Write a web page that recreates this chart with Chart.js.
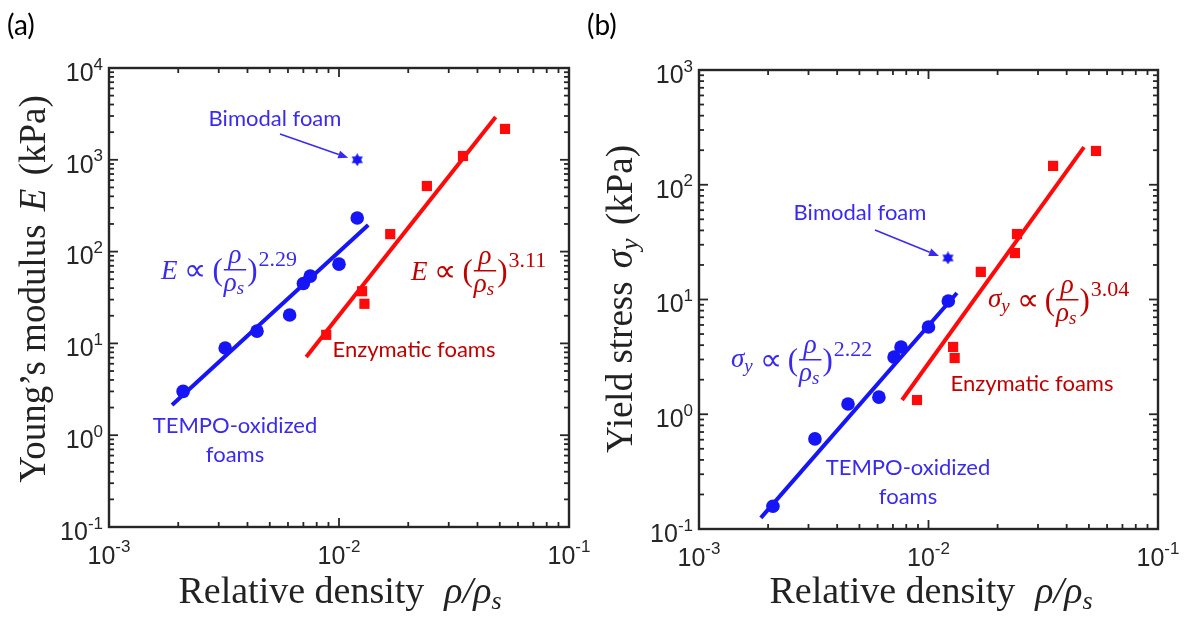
<!DOCTYPE html>
<html>
<head>
<meta charset="utf-8">
<script src="https://cdn.jsdelivr.net/npm/chart.js@4.4.0/dist/chart.umd.min.js"></script>
<style>
  body { margin: 0; background: #fff; width: 1191px; height: 617px; overflow: hidden; position: relative; }
  canvas { position: absolute; top: 0; }
  #chartA { left: 0; }
  #chartB { left: 575px; }
</style>
</head>
<body>
<canvas id="chartA" width="600" height="617"></canvas>
<canvas id="chartB" width="616" height="617"></canvas>
<script>
// axis decades (shown as 10^n)
const xTickExps = [-3, -2, -1];
const yTickExpsA = [-1, 0, 1, 2, 3, 4];
const yTickExpsB = [-1, 0, 1, 2, 3];

// (a) Young's modulus E (kPa) vs relative density
const tempoDensityA = [0.0021, 0.0032, 0.0044, 0.0061, 0.0070, 0.0075, 0.0100, 0.0120];
const tempoModulus  = [3.0, 8.9, 13.6, 20.4, 45, 54, 73, 232];
const enzDensityA   = [0.0088, 0.0126, 0.0129, 0.0167, 0.0241, 0.0346, 0.0527];
const enzModulus    = [12.4, 37, 27, 155, 518, 1100, 2170];
const bimodalDensityA = [0.0120];
const bimodalModulus  = [1000];
const tempoFitDensityA = [0.00188, 0.0134];
const tempoFitModulus  = [2.13, 195];
const enzFitDensityA   = [0.0072, 0.048];
const enzFitModulus    = [7.1, 2930];

// (b) Yield stress sigma_y (kPa) vs relative density
const tempoDensityB = [0.0021, 0.0032, 0.00446, 0.00608, 0.00708, 0.00759, 0.0100, 0.0122];
const tempoStress   = [0.158, 0.61, 1.23, 1.41, 3.15, 3.86, 5.76, 9.7];
const enzDensityB   = [0.00891, 0.0128, 0.0130, 0.0169, 0.0238, 0.0243, 0.0349, 0.0537];
const enzStress     = [1.33, 3.86, 3.09, 17.4, 25.4, 37.2, 146, 197];
const bimodalDensityB = [0.01216];
const bimodalStress   = [23];
const tempoFitDensityB = [0.00186, 0.0133];
const tempoFitStress   = [0.125, 11.4];
const enzFitDensityB   = [0.00767, 0.0476];
const enzFitStress     = [1.33, 213];

const BLUE = '#1515f5';
const BLUE_TXT = '#3a2af0';
const RED = '#ff0a0a';
const RED_TXT = '#c00000';
const AXIS = '#262626';
const SANS = '"Liberation Sans", Arial, sans-serif';
const SERIF = '"Liberation Serif", "Times New Roman", serif';
const LABEL = 'Lato, "Open Sans", sans-serif';

function pts(xs, ys) { return xs.map((x, i) => ({ x: x, y: ys[i] })); }

// six pointed star marker
function hexagram(size, color) {
  const c = document.createElement('canvas');
  c.width = c.height = size;
  const g = c.getContext('2d');
  const r = size / 2;
  g.fillStyle = color;
  [-Math.PI / 2, Math.PI / 2].forEach(rot => {
    g.beginPath();
    for (let i = 0; i < 3; i++) {
      const a = rot + i * 2 * Math.PI / 3;
      g.lineTo(r + r * Math.cos(a), r + r * Math.sin(a));
    }
    g.closePath();
    g.fill();
  });
  return c;
}
const star = hexagram(13, BLUE);

function datasets(tx, ty, ex, ey, bx, by, tfx, tfy, efx, efy) {
  return [
    { data: pts(tx, ty), pointStyle: 'circle', pointRadius: 6.8, backgroundColor: BLUE, borderWidth: 0, order: 0 },
    { data: pts(ex, ey), pointStyle: 'rect', pointRadius: 7.2, backgroundColor: RED, borderWidth: 0, order: 0 },
    { data: pts(bx, by), pointStyle: star, order: 0 },
    { data: pts(tfx, tfy), showLine: true, pointRadius: 0, borderColor: BLUE, borderWidth: 4, order: 1 },
    { data: pts(efx, efy), showLine: true, pointRadius: 0, borderColor: RED, borderWidth: 4, order: 1 }
  ];
}

// draws a list of text pieces one after the other
function runs(ctx, list, x, y, align) {
  let w = 0;
  list.forEach(r => { ctx.font = r.font; r.w = ctx.measureText(r.t).width + (r.gap || 0); w += r.w; });
  let cx = align === 'center' ? x - w / 2 : x;
  list.forEach(r => { ctx.font = r.font; ctx.fillText(r.t, cx + (r.gap || 0), y + (r.dy || 0)); cx += r.w; });
  return w;
}

// E ∝ (ρ/ρs)^n  drawn with a stacked fraction
function powerLaw(ctx, x, ax, sym, exp, color) {
  ctx.save();
  ctx.fillStyle = color;
  ctx.textAlign = 'left';
  ctx.textBaseline = 'alphabetic';
  const it = 'italic 27px ' + SERIF, sub = 'italic 19px ' + SERIF;
  let cx = x;
  if (sym === 'E') {
    cx += runs(ctx, [{ t: 'E', font: it }], cx, ax + 9);
  } else {
    cx += runs(ctx, [{ t: 'σ', font: it }, { t: 'y', font: sub, dy: 5 }], cx, ax + 7);
  }
  cx += runs(ctx, [{ t: '∝', font: '31px ' + SERIF, gap: 7 }], cx, ax + 10) + 6;
  cx += runs(ctx, [{ t: '(', font: '31px ' + SERIF }], cx, ax + 10) + 1;
  ctx.font = it;
  const rw = ctx.measureText('ρ').width;
  ctx.font = sub;
  const fw = rw + ctx.measureText('s').width + 2;
  ctx.font = it;
  ctx.fillText('ρ', cx + (fw - rw) / 2, ax - 7);
  ctx.fillRect(cx, ax - 1, fw, 1.5);
  runs(ctx, [{ t: 'ρ', font: it }, { t: 's', font: sub, dy: 3 }], cx, ax + 21);
  cx += fw + 1;
  cx += runs(ctx, [{ t: ')', font: '31px ' + SERIF }], cx, ax + 10);
  runs(ctx, [{ t: exp, font: '22px ' + SERIF }], cx + 1, ax - 4);
  ctx.restore();
}

function arrow(ctx, x1, y1, x2, y2, color) {
  const ang = Math.atan2(y2 - y1, x2 - x1), hl = 10, hw = 4;
  ctx.save();
  ctx.strokeStyle = color; ctx.fillStyle = color; ctx.lineWidth = 1.5;
  ctx.beginPath();
  ctx.moveTo(x1, y1);
  ctx.lineTo(x2 - hl * Math.cos(ang), y2 - hl * Math.sin(ang));
  ctx.stroke();
  ctx.beginPath();
  ctx.moveTo(x2, y2);
  ctx.lineTo(x2 - hl * Math.cos(ang) + hw * Math.sin(ang), y2 - hl * Math.sin(ang) - hw * Math.cos(ang));
  ctx.lineTo(x2 - hl * Math.cos(ang) - hw * Math.sin(ang), y2 - hl * Math.sin(ang) + hw * Math.cos(ang));
  ctx.closePath();
  ctx.fill();
  ctx.restore();
}

function framePlugin(p) {
  return {
    id: 'frame',
    afterDatasetsDraw(chart) {
      const ctx = chart.ctx, a = chart.chartArea;
      const xs = chart.scales.x, ys = chart.scales.y;
      ctx.save();
      ctx.strokeStyle = AXIS;
      ctx.fillStyle = AXIS;
      ctx.lineWidth = 1.8;
      const seg = (x1, y1, x2, y2) => { ctx.beginPath(); ctx.moveTo(x1, y1); ctx.lineTo(x2, y2); ctx.stroke(); };

      // log ticks, inward on all four sides
      const decades = (lo, hi, fn) => {
        for (let e = Math.round(Math.log10(lo)); e <= Math.round(Math.log10(hi)); e++) {
          for (let m = 1; m <= 9; m++) {
            const v = m * Math.pow(10, e);
            if (v > hi * 1.0001) break;
            fn(v, m === 1);
          }
        }
      };
      decades(xs.min, xs.max, (v, major) => {
        const px = xs.getPixelForValue(v), len = major ? 9 : 5;
        seg(px, a.bottom, px, a.bottom - len);
        seg(px, a.top, px, a.top + len);
      });
      decades(ys.min, ys.max, (v, major) => {
        const py = ys.getPixelForValue(v), len = major ? 9 : 5;
        seg(a.left, py, a.left + len, py);
        seg(a.right, py, a.right - len, py);
      });
      ctx.lineWidth = 2.4;
      ctx.strokeRect(a.left, a.top, a.right - a.left, a.bottom - a.top);

      // tick labels 10^n
      ctx.textBaseline = 'middle';
      ctx.textAlign = 'left';
      const big = '25px ' + SANS, small = '17px ' + SANS;
      xTickExps.forEach(e => {
        const px = xs.getPixelForValue(Math.pow(10, e));
        ctx.font = big; const w1 = ctx.measureText('10').width;
        ctx.font = small; const w2 = ctx.measureText(String(e)).width;
        const x0 = px - (w1 + w2) / 2;
        ctx.font = big; ctx.fillText('10', x0, a.bottom + 30);
        ctx.font = small; ctx.fillText(String(e), x0 + w1, a.bottom + 20);
      });
      p.yExps.forEach(e => {
        const py = ys.getPixelForValue(Math.pow(10, e));
        ctx.font = small; const w2 = ctx.measureText(String(e)).width;
        ctx.font = big; const w1 = ctx.measureText('10').width;
        const x0 = a.left - 6 - w2 - w1;
        ctx.fillText('10', x0, py + 6);
        ctx.font = small; ctx.fillText(String(e), x0 + w1, py - 3);
      });

      // axis titles
      ctx.fillStyle = '#222';
      ctx.textBaseline = 'alphabetic';
      runs(ctx, [
        { t: 'Relative density', font: '38px ' + SERIF },
        { t: 'ρ/ρ', font: 'italic 38px ' + SERIF, gap: 20 },
        { t: 's', font: 'italic 26px ' + SERIF, dy: 6 }
      ], a.left + p.xTitle[0], a.top + p.xTitle[1], 'center');
      ctx.save();
      ctx.translate(a.left + p.yTitle[0], a.top + p.yTitle[1]);
      ctx.rotate(-Math.PI / 2);
      runs(ctx, p.yTitleRuns, 0, 0, 'center');
      ctx.restore();

      // panel letter
      ctx.fillStyle = '#000';
      ctx.font = '28px ' + LABEL;
      ctx.fillText(p.letter[0], p.letter[1], p.letter[2]);

      // text annotations
      ctx.textAlign = 'center';
      ctx.font = '22px ' + LABEL;
      ctx.fillStyle = BLUE_TXT;
      ctx.fillText('Bimodal foam', a.left + p.bimodal[0], a.top + p.bimodal[1]);
      ctx.fillText('TEMPO-oxidized', a.left + p.tempo[0], a.top + p.tempo[1]);
      ctx.fillText('foams', a.left + p.tempo[0], a.top + p.tempo[1] + 29);
      ctx.fillStyle = RED_TXT;
      ctx.fillText('Enzymatic foams', a.left + p.enz[0], a.top + p.enz[1]);

      // arrow to the bimodal point
      const sx = xs.getPixelForValue(p.starX), sy = ys.getPixelForValue(p.starY);
      arrow(ctx, a.left + p.arrowFrom[0], a.top + p.arrowFrom[1], sx - 9, sy - 2, BLUE_TXT);

      powerLaw(ctx, a.left + p.eqBlue[0], a.top + p.eqBlue[1], p.sym, p.expBlue, BLUE_TXT);
      powerLaw(ctx, a.left + p.eqRed[0], a.top + p.eqRed[1], p.sym, p.expRed, RED_TXT);
      ctx.restore();
    }
  };
}

function makeChart(id, data, yMin, yMax, padding, p) {
  return new Chart(document.getElementById(id), {
    type: 'scatter',
    data: { datasets: data },
    options: {
      responsive: false,
      animation: false,
      layout: { padding: padding },
      plugins: { legend: { display: false }, tooltip: { enabled: false } },
      scales: {
        x: { type: 'logarithmic', min: 1e-3, max: 1e-1, display: false },
        y: { type: 'logarithmic', min: yMin, max: yMax, display: false }
      }
    },
    plugins: [framePlugin(p)]
  });
}

makeChart('chartA',
  datasets(tempoDensityA, tempoModulus, enzDensityA, enzModulus, bimodalDensityA, bimodalModulus,
    tempoFitDensityA, tempoFitModulus, enzFitDensityA, enzFitModulus),
  0.1, 1e4, { left: 109, right: 31, top: 68, bottom: 90 },
  {
    letter: ['(a)', 7, 35], yExps: yTickExpsA, sym: 'E', expBlue: '2.29', expRed: '3.11',
    xTitle: [231, 535], yTitle: [-64, 221],
    yTitleRuns: [
      { t: 'Young’s modulus ', font: '37px ' + SERIF },
      { t: 'E', font: 'italic 37px ' + SERIF, gap: 4 },
      { t: ' (kPa)', font: '37px ' + SERIF, gap: 4 }
    ],
    bimodal: [166, 58], tempo: [126, 365], enz: [305, 289],
    arrowFrom: [171, 66], starX: bimodalDensityA[0], starY: bimodalModulus[0],
    eqBlue: [52, 202], eqRed: [302, 203]
  });

makeChart('chartB',
  datasets(tempoDensityB, tempoStress, enzDensityB, enzStress, bimodalDensityB, bimodalStress,
    tempoFitDensityB, tempoFitStress, enzFitDensityB, enzFitStress),
  0.1, 1e3, { left: 124, right: 33, top: 70, bottom: 88 },
  {
    letter: ['(b)', 12, 35], yExps: yTickExpsB, sym: 's', expBlue: '2.22', expRed: '3.04',
    xTitle: [232, 533], yTitle: [-67, 229],
    yTitleRuns: [
      { t: 'Yield stress ', font: '37px ' + SERIF },
      { t: 'σ', font: 'italic 37px ' + SERIF, gap: 4 },
      { t: 'y', font: 'italic 26px ' + SERIF, dy: 6 },
      { t: ' (kPa)', font: '37px ' + SERIF, gap: 4 }
    ],
    bimodal: [161, 150], tempo: [209, 405], enz: [333, 321],
    arrowFrom: [176, 160], starX: bimodalDensityB[0], starY: bimodalStress[0],
    eqBlue: [32, 290], eqRed: [289, 230]
  });
</script>
</body>
</html>
